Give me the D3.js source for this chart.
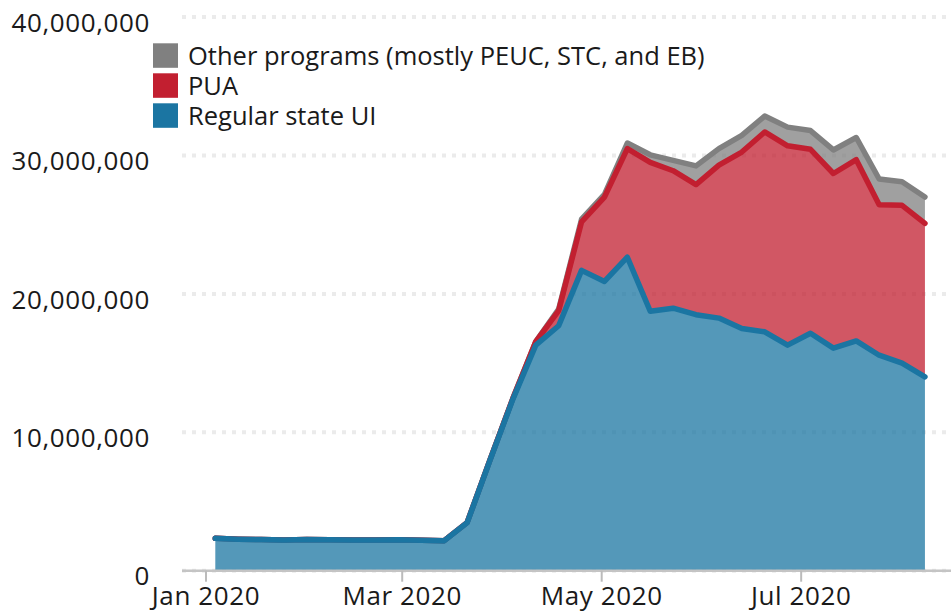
<!DOCTYPE html>
<html>
<head>
<meta charset="utf-8">
<script src="https://cdn.jsdelivr.net/npm/d3@7"></script>
<style>
  html, body { margin: 0; padding: 0; background: #fff; }
  svg { display: block; font-family: "Open Sans", sans-serif; }
</style>
</head>
<body>
<svg id="chart" width="951" height="613"></svg>
<script>
// ---- data (millions of continued claims, weekly) ----
const weeks = ["2020-01-04","2020-01-11","2020-01-18","2020-01-25","2020-02-01","2020-02-08","2020-02-15","2020-02-22","2020-02-29","2020-03-07","2020-03-14","2020-03-21","2020-03-28","2020-04-04","2020-04-11","2020-04-18","2020-04-25","2020-05-02","2020-05-09","2020-05-16","2020-05-23","2020-05-30","2020-06-06","2020-06-13","2020-06-20","2020-06-27","2020-07-04","2020-07-11","2020-07-18","2020-07-25","2020-08-01","2020-08-08"];
const regularUI = [2.34,2.28,2.25,2.22,2.26,2.24,2.22,2.21,2.23,2.20,2.17,3.47,8.0,12.4,16.3,17.7,21.7,20.9,22.65,18.75,18.97,18.5,18.25,17.5,17.26,16.3,17.16,16.08,16.6,15.57,15.0,14.0];
const pua = [0,0,0,0,0,0,0,0,0,0,0,0,0,0.05,0.25,1.1,3.5,6.1,7.85,10.75,9.93,9.4,11.05,12.75,14.44,14.4,13.29,12.62,13.1,10.88,11.4,11.1];
const otherPrograms = [0,0,0,0,0,0,0,0,0,0,0,0,0,0,0,0.1,0.2,0.2,0.4,0.55,0.75,1.35,1.2,1.2,1.15,1.35,1.35,1.7,1.6,1.85,1.7,1.9];
const seriesKeys = ["regular","pua","other"];
const seriesNames = ["Regular state UI","PUA","Other programs (mostly PEUC, STC, and EB)"];
const seriesColors = ["#1b75a2","#c21f30","#808080"];
const yTicks = [0,10000000,20000000,30000000,40000000];
const xTicks = ["2020-01-01","2020-03-01","2020-05-01","2020-07-01"];
const UNIT = 1e6;

const parse = d3.timeParse("%Y-%m-%d");
const rows = weeks.map((w,i) => ({
  date: parse(w),
  regular: regularUI[i]*UNIT,
  pua: pua[i]*UNIT,
  other: otherPrograms[i]*UNIT
}));

const svg = d3.select("#chart");
const x = d3.scaleTime().domain([parse("2019-12-25"), parse("2020-08-16")]).range([182.6, 951.1]);
const y = d3.scaleLinear().domain([0, 40000000]).range([570.7, 17.1]);

// gridlines
svg.append("g").selectAll("line").data(yTicks).join("line")
  .attr("x1", 182).attr("x2", 951)
  .attr("y1", d => y(d)).attr("y2", d => y(d))
  .attr("stroke", "#ebebeb").attr("stroke-width", 4)
  .attr("stroke-dasharray", "4,6");

// y axis labels
const yAxis = d3.axisLeft(y).tickValues(yTicks).tickFormat(d3.format(",")).tickSize(0).tickPadding(0);
const yg = svg.append("g").attr("transform", "translate(150,0)").call(yAxis);
yg.select(".domain").remove();
yg.selectAll("text")
  .attr("font-family", "'Open Sans', sans-serif")
  .attr("font-size", 26).attr("fill", "#1a1a1a")
  .attr("letter-spacing", 0.6)
  .attr("dy", "0.85em").attr("y", -8);

// stacked areas
const stack = d3.stack().keys(seriesKeys);
const layers = stack(rows);
const area = d3.area().x(d => x(d.data.date)).y0(d => y(d[0])).y1(d => y(d[1]));
const line = d3.line().x(d => x(d.data.date)).y(d => y(d[1]));

// draw top-most first so lower series lines sit on top
const order = [2,1,0];
order.forEach(i => {
  const g = svg.append("g");
  g.append("path").datum(layers[i]).attr("d", area)
    .attr("fill", seriesColors[i]).attr("fill-opacity", 0.75);
  g.append("path").datum(layers[i]).attr("d", line)
    .attr("fill", "none").attr("stroke", seriesColors[i])
    .attr("stroke-width", 5.5).attr("stroke-linejoin", "round").attr("stroke-linecap", "round");
});

// x axis baseline
svg.append("line").attr("x1", 182).attr("x2", 951)
  .attr("y1", y(0)).attr("y2", y(0))
  .attr("stroke", "#c4c4c4").attr("stroke-width", 2.5);

const xAxis = d3.axisBottom(x).tickValues(xTicks.map(parse)).tickFormat(d3.timeFormat("%b %Y")).tickSize(11).tickPadding(5);
const xg = svg.append("g").attr("transform", `translate(0,${y(0)})`).call(xAxis);
xg.select(".domain").remove();
xg.selectAll(".tick line").attr("stroke", "#bbbbbb").attr("stroke-width", 2);
xg.selectAll("text")
  .attr("font-family", "'Open Sans', sans-serif")
  .attr("font-size", 26).attr("fill", "#1a1a1a").attr("letter-spacing", 0.6);

// legend
const legendOrder = [2,1,0];
const lg = svg.append("g");
legendOrder.forEach((si, k) => {
  const top = 43.3 + k*30;
  lg.append("rect").attr("x", 153).attr("y", top).attr("width", 25).attr("height", 24.5)
    .attr("fill", seriesColors[si]);
  lg.append("text").attr("x", 188).attr("y", top + 22)
    .attr("font-family", "'Open Sans', sans-serif")
    .attr("font-size", 25.5).attr("fill", "#1a1a1a")
    .text(seriesNames[si]);
});
</script>
</body>
</html>
